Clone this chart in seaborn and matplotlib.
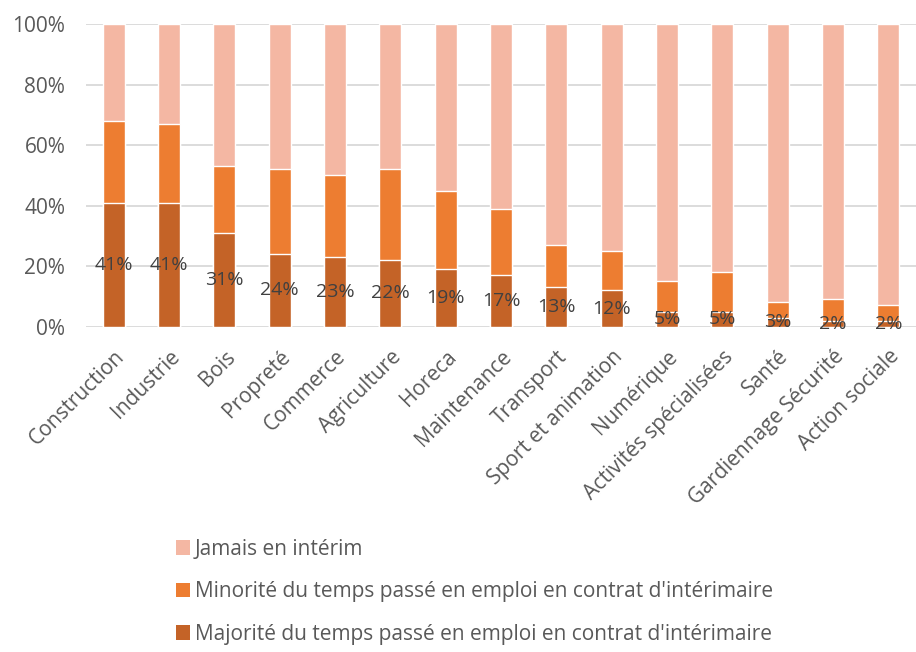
import matplotlib
matplotlib.use("Agg")
import matplotlib.pyplot as plt
import seaborn as sns
import pandas as pd
from matplotlib.patches import Patch
from matplotlib.ticker import PercentFormatter

# Data
sectors = ["Construction", "Industrie", "Bois", "Propreté", "Commerce", "Agriculture",
           "Horeca", "Maintenance", "Transport", "Sport et animation", "Numérique",
           "Activités spécialisées", "Santé", "Gardiennage Sécurité", "Action sociale"]
majorite = [41, 41, 31, 24, 23, 22, 19, 17, 13, 12, 5, 5, 3, 2, 2]
minorite = [27, 26, 22, 28, 27, 30, 26, 22, 14, 13, 10, 13, 5, 7, 5]
jamais = [100 - a - b for a, b in zip(majorite, minorite)]

series_labels = ["Jamais en intérim",
                 "Minorité du temps passé en emploi en contrat d'intérimaire",
                 "Majorité du temps passé en emploi en contrat d'intérimaire"]
colors = ["#F4B7A3", "#ED7D31", "#C46327"]

df = pd.DataFrame({"secteur": sectors, "maj": majorite, "min": minorite, "jam": jamais})
df["top_min"] = df["maj"] + df["min"]
df["top_jam"] = df["top_min"] + df["jam"]

sns.set_theme(style="white")
plt.rcParams["font.family"] = ["Open Sans", "DejaVu Sans"]
text_color = "#595959"

fig = plt.figure(figsize=(9.16, 6.52), dpi=100)
ax = fig.add_axes([0.094, 0.499, 0.906, 0.464])

# stacked bars: draw cumulative totals from the back to the front
sns.barplot(data=df, x="secteur", y="top_jam", color=colors[0], width=0.4, ax=ax,
            saturation=1, zorder=2)
sns.barplot(data=df, x="secteur", y="top_min", color=colors[1], width=0.4, ax=ax,
            saturation=1, zorder=3)
sns.barplot(data=df, x="secteur", y="maj", color=colors[2], width=0.4, ax=ax,
            saturation=1, zorder=4)

ax.bar_label(ax.containers[2], labels=[f"{v}%" for v in majorite], label_type="center",
             fontsize=14, color="#404040", zorder=5)

ax.set_ylim(0, 100)
ax.set_xlim(-0.5, len(sectors) - 0.5)
ax.set_yticks(range(0, 101, 20))
ax.yaxis.set_major_formatter(PercentFormatter(100, decimals=0))
ax.grid(axis="y", color="#D9D9D9", linewidth=1.3, zorder=0)
ax.set_axisbelow(True)
for s in ax.spines.values():
    s.set_visible(False)
ax.set_xlabel("")
ax.set_ylabel("")
ax.tick_params(axis="y", length=0, labelsize=15, colors=text_color, pad=15)
ax.tick_params(axis="x", length=0, labelsize=15, colors=text_color, pad=14)
plt.setp(ax.get_xticklabels(), rotation=45, ha="right", rotation_mode="anchor")

handles = [Patch(facecolor=c, edgecolor="none") for c in colors]
fig.legend(handles, series_labels, loc="upper left", bbox_to_anchor=(0.1806, 0.19),
           frameon=False, fontsize=15, labelcolor=text_color, handlelength=0.7,
           handleheight=0.7, handletextpad=0.2, labelspacing=1.04, borderpad=0)

fig.savefig("out.png", dpi=100)
